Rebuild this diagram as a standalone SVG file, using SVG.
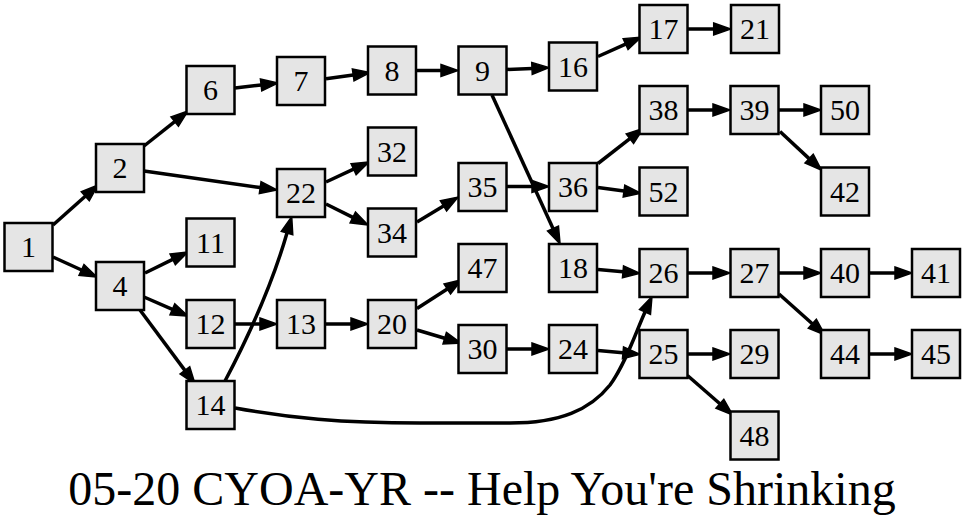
<svg xmlns="http://www.w3.org/2000/svg" width="965" height="524" viewBox="0 0 965 524">
<style>
.n rect{fill:#e5e5e5;stroke:#000;stroke-width:2.5}
.n text{font-family:"Liberation Serif","Times New Roman",serif;font-size:30px;text-anchor:middle;fill:#000}
#edges path{fill:none;stroke:#000;stroke-width:3.5;marker-end:url(#a)}
.title{font-family:"Liberation Serif","Times New Roman",serif;font-size:48px;text-anchor:middle;fill:#000}
</style>
<defs>
<marker id="a" markerWidth="24" markerHeight="18" refX="1" refY="7.5" orient="auto" markerUnits="userSpaceOnUse" overflow="visible">
<path d="M1,1.5 L18,7.5 L1,13.5 z" fill="#000" stroke="#000" stroke-width="1.5"/>
</marker>
</defs>
<rect width="965" height="524" fill="#fff"/>
<g id="edges">
<path d="M53,225 L85.3,196.3"/>
<path d="M53,257 L81.5,270"/>
<path d="M144,146 L174.7,121.6"/>
<path d="M144,171 L260.2,187.6"/>
<path d="M145,273 L172.7,259.4"/>
<path d="M144,297 L172.4,309.3"/>
<path d="M140,310 L184.9,370.4"/>
<path d="M235,88 L261.1,85"/>
<path d="M326,78.7 L353.2,74.9"/>
<path d="M417,70.5 L441,70.5"/>
<path d="M507,69.5 L532,68.4"/>
<path d="M492,95 L553,228.5"/>
<path d="M598,56.5 L625.6,44.1"/>
<path d="M688,29 L713.7,29"/>
<path d="M326,182 L353.6,169.2"/>
<path d="M326,204 L352.8,217.4"/>
<path d="M417,222 L443.5,205.9"/>
<path d="M507,186.5 L532,186.5"/>
<path d="M598,163.5 L629.9,138.7"/>
<path d="M598,187.5 L624,191"/>
<path d="M688,110 L713,110"/>
<path d="M779,110 L804,110"/>
<path d="M780,131.5 L809.1,158.6"/>
<path d="M235,324 L260,324"/>
<path d="M326,324 L351,324"/>
<path d="M417,308.5 L447.3,289"/>
<path d="M417,330 L444.7,338.2"/>
<path d="M507,349 L532,349"/>
<path d="M598,350.5 L623,352.8"/>
<path d="M598,269.5 L623,271.8"/>
<path d="M688,273 L713,273"/>
<path d="M779,273 L804,273"/>
<path d="M870,273 L895,273"/>
<path d="M779,294 L812.3,323.7"/>
<path d="M870,354 L895,354"/>
<path d="M688,354 L713,354"/>
<path d="M687.5,375.5 L719.9,403.8"/>
<path d="M225,381 C245,343 272,285 287,233"/>
<path d="M235,408 C290,418 340,423 420,423 L510,423 C560,423 590,410 610,385 C625,365 636,332 645,312"/>
</g>
<g id="n1" class="n"><rect x="4.5" y="223" width="48" height="48"/><text x="28.5" y="257">1</text></g>
<g id="n2" class="n"><rect x="96" y="144" width="48" height="48"/><text x="120" y="178">2</text></g>
<g id="n4" class="n"><rect x="96" y="262" width="48" height="48"/><text x="120" y="296">4</text></g>
<g id="n6" class="n"><rect x="186.5" y="66" width="48" height="48"/><text x="210.5" y="100">6</text></g>
<g id="n11" class="n"><rect x="186.5" y="218.5" width="48" height="48"/><text x="210.5" y="252.5">11</text></g>
<g id="n12" class="n"><rect x="186.5" y="300" width="48" height="48"/><text x="210.5" y="334">12</text></g>
<g id="n14" class="n"><rect x="186.5" y="381" width="48" height="48"/><text x="210.5" y="415">14</text></g>
<g id="n7" class="n"><rect x="277" y="57" width="48" height="48"/><text x="301" y="91">7</text></g>
<g id="n22" class="n"><rect x="277" y="169" width="48" height="48"/><text x="301" y="203">22</text></g>
<g id="n13" class="n"><rect x="277" y="300" width="48" height="48"/><text x="301" y="334">13</text></g>
<g id="n8" class="n"><rect x="368" y="46.5" width="48" height="48"/><text x="392" y="80.5">8</text></g>
<g id="n32" class="n"><rect x="368" y="127.5" width="48" height="48"/><text x="392" y="161.5">32</text></g>
<g id="n34" class="n"><rect x="368" y="208.5" width="48" height="48"/><text x="392" y="242.5">34</text></g>
<g id="n20" class="n"><rect x="368" y="300" width="48" height="48"/><text x="392" y="334">20</text></g>
<g id="n9" class="n"><rect x="458.5" y="46.5" width="48" height="48"/><text x="482.5" y="80.5">9</text></g>
<g id="n35" class="n"><rect x="458.5" y="163" width="48" height="48"/><text x="482.5" y="197">35</text></g>
<g id="n47" class="n"><rect x="458.5" y="244" width="48" height="48"/><text x="482.5" y="278">47</text></g>
<g id="n30" class="n"><rect x="458.5" y="325" width="48" height="48"/><text x="482.5" y="359">30</text></g>
<g id="n16" class="n"><rect x="549" y="42.5" width="48" height="48"/><text x="573" y="76.5">16</text></g>
<g id="n36" class="n"><rect x="549" y="163" width="48" height="48"/><text x="573" y="197">36</text></g>
<g id="n18" class="n"><rect x="549" y="244" width="48" height="48"/><text x="573" y="278">18</text></g>
<g id="n24" class="n"><rect x="549" y="325" width="48" height="48"/><text x="573" y="359">24</text></g>
<g id="n17" class="n"><rect x="639.5" y="5" width="48" height="48"/><text x="663.5" y="39">17</text></g>
<g id="n38" class="n"><rect x="639.5" y="86" width="48" height="48"/><text x="663.5" y="120">38</text></g>
<g id="n52" class="n"><rect x="639.5" y="167.5" width="48" height="48"/><text x="663.5" y="201.5">52</text></g>
<g id="n26" class="n"><rect x="639.5" y="249" width="48" height="48"/><text x="663.5" y="283">26</text></g>
<g id="n25" class="n"><rect x="639.5" y="330" width="48" height="48"/><text x="663.5" y="364">25</text></g>
<g id="n21" class="n"><rect x="731" y="5" width="48" height="48"/><text x="755" y="39">21</text></g>
<g id="n39" class="n"><rect x="730.5" y="86" width="48" height="48"/><text x="754.5" y="120">39</text></g>
<g id="n27" class="n"><rect x="730.5" y="249" width="48" height="48"/><text x="754.5" y="283">27</text></g>
<g id="n29" class="n"><rect x="730.5" y="330" width="48" height="48"/><text x="754.5" y="364">29</text></g>
<g id="n48" class="n"><rect x="730.5" y="411.5" width="48" height="48"/><text x="754.5" y="445.5">48</text></g>
<g id="n50" class="n"><rect x="821" y="86" width="48" height="48"/><text x="845" y="120">50</text></g>
<g id="n42" class="n"><rect x="821" y="167.5" width="48" height="48"/><text x="845" y="201.5">42</text></g>
<g id="n40" class="n"><rect x="821" y="249" width="48" height="48"/><text x="845" y="283">40</text></g>
<g id="n44" class="n"><rect x="821" y="330" width="48" height="48"/><text x="845" y="364">44</text></g>
<g id="n41" class="n"><rect x="912" y="249" width="48" height="48"/><text x="936" y="283">41</text></g>
<g id="n45" class="n"><rect x="912" y="330" width="48" height="48"/><text x="936" y="364">45</text></g>
<text class="title" x="482" y="505">05-20 CYOA-YR -- Help You're Shrinking</text>
</svg>
